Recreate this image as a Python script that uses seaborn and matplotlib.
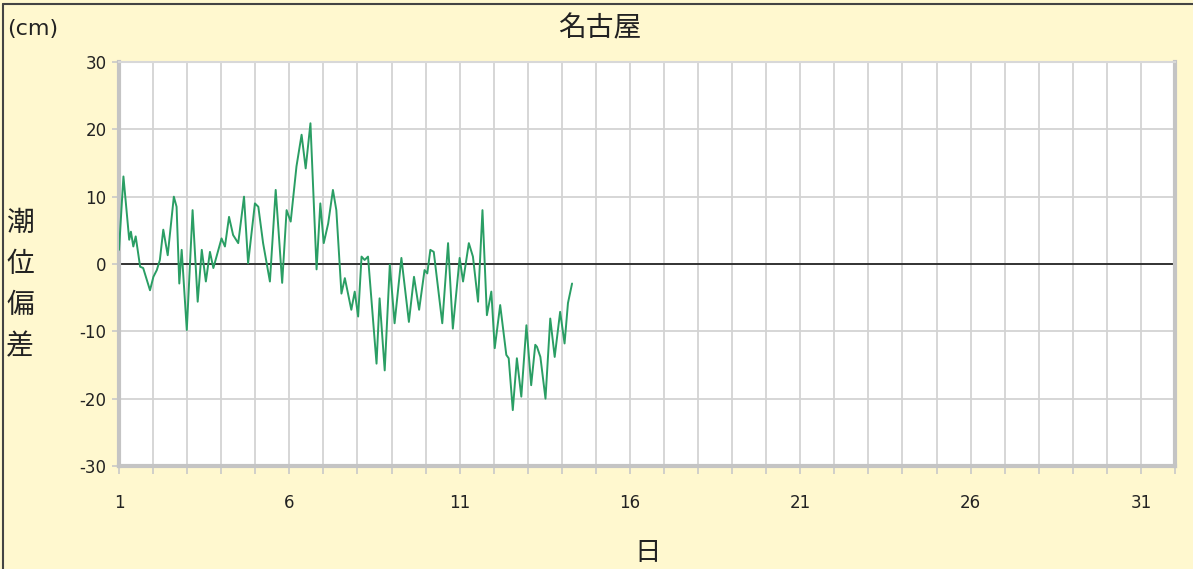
import numpy as np
import pandas as pd
import matplotlib.pyplot as plt
import seaborn as sns
from matplotlib.lines import Line2D
from matplotlib.ticker import MultipleLocator

# Tide deviation at Nagoya (day of month, cm)
days = [1.00, 1.13, 1.30, 1.35, 1.42, 1.49, 1.62, 1.71, 1.91, 2.01,
        2.11, 2.20, 2.30, 2.43, 2.61, 2.69, 2.77, 2.84, 2.99, 3.16,
        3.31, 3.43, 3.55, 3.67, 3.77, 4.01, 4.11, 4.23, 4.35, 4.50,
        4.67, 4.79, 4.99, 5.09, 5.23, 5.43, 5.60, 5.79, 5.92, 6.04,
        6.21, 6.36, 6.48, 6.62, 6.80, 6.91, 7.01, 7.14, 7.28, 7.38,
        7.53, 7.63, 7.82, 7.92, 8.02, 8.12, 8.21, 8.31, 8.56, 8.65,
        8.80, 8.95, 9.09, 9.29, 9.51, 9.66, 9.81, 9.97, 10.05, 10.14,
        10.24, 10.49, 10.66, 10.80, 11.00, 11.10, 11.27, 11.39, 11.54, 11.67,
        11.80, 11.93, 12.03, 12.19, 12.37, 12.44, 12.56, 12.68, 12.81, 12.96,
        13.10, 13.22, 13.27, 13.37, 13.52, 13.66, 13.79, 13.95, 14.08, 14.18,
        14.30]
deviation = [2.1, 13.0, 3.6, 4.8, 2.6, 4.1, -0.4, -0.6, -3.9, -1.9,
             -0.9, 0.6, 5.1, 1.3, 10.0, 8.5, -2.9, 2.1, -9.8, 8.0,
             -5.6, 2.1, -2.6, 1.8, -0.6, 3.8, 2.6, 7.0, 4.3, 3.1,
             10.0, 0.1, 9.0, 8.5, 3.1, -2.6, 11.0, -2.8, 8.0, 6.3,
             14.5, 19.2, 14.2, 20.9, -0.8, 9.0, 3.1, 6.0, 11.0, 8.0,
             -4.4, -2.1, -6.8, -4.1, -7.8, 1.1, 0.6, 1.1, -14.8, -5.1,
             -15.8, -0.1, -8.8, 0.9, -8.6, -1.9, -6.8, -0.9, -1.4, 2.1,
             1.8, -8.8, 3.1, -9.6, 0.9, -2.6, 3.1, 1.1, -5.6, 8.0,
             -7.6, -4.1, -12.5, -6.1, -13.5, -14.0, -21.7, -14.0, -19.7, -9.1,
             -18.0, -12.0, -12.3, -13.8, -20.0, -8.1, -13.8, -7.1, -11.8, -5.8,
             -2.9]

title = '名古屋'
unit_label = '(cm)'
ylabel_chars = ['潮', '位', '偏', '差']
xlabel = '日'

df = pd.DataFrame({'day': days, 'deviation': deviation})

sns.set_style('white')
plt.rcParams['font.family'] = ['DejaVu Sans', 'Noto Sans CJK JP']
plt.rcParams['axes.unicode_minus'] = False
cjk = ['Noto Sans CJK JP', 'DejaVu Sans']

bg = '#FFF8CF'
fig = plt.figure(figsize=(11.93, 5.69), dpi=100, facecolor=bg)
ax = fig.add_axes([119 / 1193, 1 - 466 / 569, (1175 - 119) / 1193, (466 - 62) / 569])
ax.set_facecolor('white')

sns.lineplot(data=df, x='day', y='deviation', ax=ax, color='#2A9E64',
             linewidth=1.4, zorder=3)
ax.axhline(0, color='#333333', linewidth=1.4, zorder=2)

ax.set_xlim(1, 32)
ax.set_ylim(-30, 30)
ax.set_xticks(range(1, 32, 5))
ax.xaxis.set_minor_locator(MultipleLocator(1))
ax.set_yticks(range(-30, 31, 10))
ax.grid(True, which='both', color='#D3D3D3', linewidth=1.3, zorder=0)
ax.set_axisbelow(True)

for side in ['left', 'bottom', 'right']:
    ax.spines[side].set_color('#C4C4C4')
    ax.spines[side].set_linewidth(3)
ax.spines['top'].set_color('#D8D8D8')
ax.spines['top'].set_linewidth(1.5)

ax.tick_params(axis='both', which='both', direction='out', color='#C8C8C8',
               width=1.2, labelsize=12, labelcolor='#222222')
ax.tick_params(axis='x', which='both', length=6, pad=14)
ax.tick_params(axis='y', length=5, pad=4, left=True)
ax.tick_params(axis='x', which='minor', bottom=True)
ax.tick_params(axis='x', which='major', bottom=True)
ax.set_xlabel('')
ax.set_ylabel('')

fig.text(600 / 1193, 1 - 28 / 569, title, ha='center', va='center', fontsize=20,
         color='#222222', family=cjk)
fig.text(7 / 1193, 1 - 29 / 569, unit_label, ha='left', va='center', fontsize=16, color='#222222')
for i, ch in enumerate(ylabel_chars):
    fig.text(20 / 1193, 1 - (223 + i * 41) / 569, ch, ha='center', va='center',
             fontsize=20, color='#222222', family=cjk)
fig.text(648 / 1193, 1 - 553 / 569, xlabel, ha='center', va='center', fontsize=19,
         color='#222222', family=cjk)

# frame lines at the left and top of the panel
fig.add_artist(Line2D([3 / 1193, 3 / 1193], [0, 1 - 4 / 569], transform=fig.transFigure,
                      color='#444444', linewidth=1.5))
fig.add_artist(Line2D([3 / 1193, 1], [1 - 4 / 569, 1 - 4 / 569], transform=fig.transFigure,
                      color='#444444', linewidth=1.5))

fig.savefig('out.png', dpi=100, facecolor=bg)
